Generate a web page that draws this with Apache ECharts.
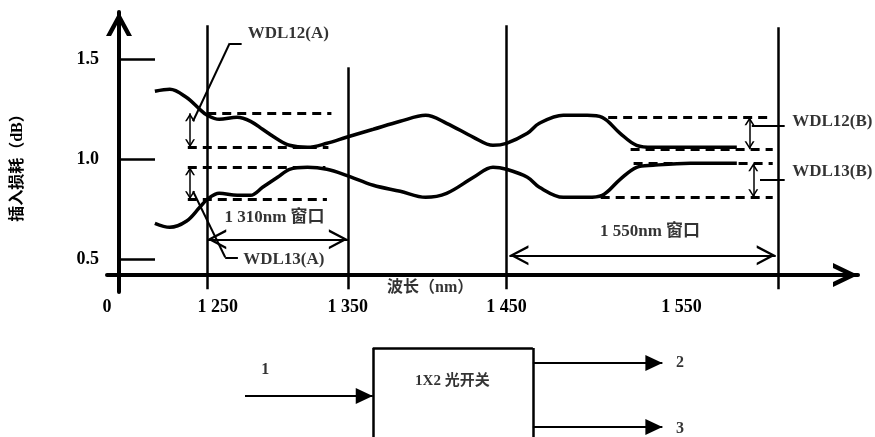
<!DOCTYPE html>
<html>
<head>
<meta charset="utf-8">
<script src="https://cdn.jsdelivr.net/npm/echarts@6.0.0/dist/echarts.min.js"></script>
<style>
html,body{margin:0;padding:0;background:#ffffff;}
#chart{width:875px;height:437px;}
</style>
</head>
<body>
<div id="chart"></div>
<script>
// ===== values =====
const wavelength = [1215,1225,1236,1245,1250,1258,1270,1279,1287,1297,1305,1317,1330,1343,1361,1379,1396,1410,1428,1441,1450,1464,1472,1488,1504,1514,1526,1537,1548,1573,1604];
const loss12 = [1.34,1.35,1.31,1.25,1.22,1.20,1.21,1.19,1.15,1.10,1.07,1.06,1.08,1.11,1.15,1.19,1.22,1.18,1.11,1.07,1.08,1.13,1.18,1.22,1.22,1.21,1.13,1.07,1.06,1.06,1.06];
const loss13 = [0.68,0.66,0.69,0.76,0.80,0.83,0.82,0.82,0.86,0.91,0.95,0.96,0.95,0.92,0.87,0.84,0.81,0.83,0.91,0.96,0.95,0.91,0.86,0.81,0.81,0.82,0.90,0.96,0.97,0.98,0.98];

const yTickValues = [0.5, 1.0, 1.5];
const xTickLabels = ['0', '1 250', '1 350', '1 450', '1 550'];
const xTickAt = [1183, 1257, 1344, 1450, 1567];

const windowEdges = [1250, 1344, 1450, 1632];
const windowEdgeTops = [1.67, 1.46, 1.67, 1.66];
const windowEdgeBottom = 0.35;

const bandA = [1.23, 1.06, 0.96, 0.80];
const bandAFrom = [1250, 1237, 1237, 1237];
const bandATo = [1333, 1331, 1329, 1330];
const bandB = [1.21, 1.05, 0.98, 0.81];
const bandBFrom = [1518, 1533, 1535, 1513];
const bandBTo = [1628, 1628, 1628, 1628];

const wdlNames = ['WDL12(A)', 'WDL13(A)', 'WDL12(B)', 'WDL13(B)'];
const wdlArrowX = [1238.5, 1238.5, 1612.5, 1615];
const wdlTextX = [1277, 1274, 1641, 1641];
const wdlTextY = [1.63, 0.50, 1.19, 0.94];
const wdlLeaders = [
  [[1273, 1.58], [1265, 1.58], [1240.5, 1.19]],
  [[1240.5, 0.84], [1262, 0.51], [1270.5, 0.51]],
  [[1614, 1.17], [1636, 1.17]],
  [[1619.5, 0.90], [1636, 0.90]]
];

const windowNames = ['1 310nm 窗口', '1 550nm 窗口'];
const windowFrom = [1250, 1452];
const windowTo = [1344, 1630];
const windowLevel = [0.60, 0.52];
const windowTextX = [1295, 1546];
const windowTextY = [0.71, 0.64];

const xName = '波长（nm）';
const xNamePos = [1399, 0.357];
const yName = '插入损耗（dB）';

// block diagram of the switch (diagram units 0-100)
const switchName = '1X2 光开关';
const switchTextPos = [51.7, 47.7];
const boxX = [42.6, 60.9];
const boxTop = 16.8;
const boxBottom = 100;
const inputFromX = 28.0;
const inputY = 61.7;
const outputToX = 75.7;
const outputY = [30.8, 90.7];
const portNames = ['1', '2', '3'];
const portX = [30.3, 77.7, 77.7];
const portY = [37.4, 30.8, 92.5];

// ===== drawing helpers =====
const K = '#000000';
const SERIF = "'Liberation Serif', 'Noto Sans CJK SC', serif";

function chevron(W, L, t) {
  const iy = (t * L / W).toFixed(2);
  return 'path://M' + W + ',' + (-L) + ' M' + W + ',0 L' + (2 * W) + ',' + L + ' L' + (2 * W - t) + ',' + L +
    ' L' + W + ',' + iy + ' L' + t + ',' + L + ' L0,' + L + ' Z';
}
function tri(W, L) {
  return 'path://M' + W + ',' + (-L) + ' M' + W + ',0 L' + (2 * W) + ',' + L + ' L0,' + L + ' Z';
}
function seg(p1, p2, style, s1, s2) {
  const a = { coord: p1, lineStyle: style, symbol: 'none' };
  const b = { coord: p2, symbol: 'none' };
  if (s1) { a.symbol = s1[0]; a.symbolSize = s1[1]; }
  if (s2) { b.symbol = s2[0]; b.symbolSize = s2[1]; }
  return [a, b];
}
const solid = w => ({ color: K, width: w, type: 'solid' });
const dashed = { color: K, width: 3, type: [9, 6] };
const smallHead = [chevron(5, 8, 1.8), [10, 16]];
const bigHead = [chevron(10, 19, 2.6), [20, 38]];
const fillHead = [tri(8, 17), [16, 34]];

const guides = [];
windowEdges.forEach((x, i) => guides.push(seg([x, windowEdgeBottom], [x, windowEdgeTops[i]], solid(2.5))));
bandA.forEach((y, i) => guides.push(seg([bandAFrom[i], y], [bandATo[i], y], dashed)));
bandB.forEach((y, i) => guides.push(seg([bandBFrom[i], y], [bandBTo[i], y], dashed)));
guides.push(seg([wdlArrowX[0], bandA[0]], [wdlArrowX[0], bandA[1]], solid(1.5), smallHead, smallHead));
guides.push(seg([wdlArrowX[1], bandA[2]], [wdlArrowX[1], bandA[3]], solid(1.5), smallHead, smallHead));
guides.push(seg([wdlArrowX[2], bandB[0]], [wdlArrowX[2], bandB[1]], solid(1.5), smallHead, smallHead));
guides.push(seg([wdlArrowX[3], bandB[2]], [wdlArrowX[3], bandB[3]], solid(1.5), smallHead, smallHead));
windowFrom.forEach((x, i) => guides.push(seg([x, windowLevel[i]], [windowTo[i], windowLevel[i]], solid(2), bigHead, bigHead)));
wdlLeaders.forEach(path => {
  for (let i = 0; i + 1 < path.length; i++) guides.push(seg(path[i], path[i + 1], solid(2)));
});

const texts = [];
wdlNames.forEach((n, i) => texts.push({ value: [wdlTextX[i], wdlTextY[i]], label: { formatter: n, align: 'left' } }));
windowNames.forEach((n, i) => texts.push({ value: [windowTextX[i], windowTextY[i]], label: { formatter: n, fontSize: 17 } }));
texts.push({ value: xNamePos, label: { formatter: xName, fontSize: 16 } });

const diagramLines = [
  seg([boxX[0], boxBottom], [boxX[0], boxTop], solid(2.5)),
  seg([boxX[0], boxTop], [boxX[1], boxTop], solid(2.5)),
  seg([boxX[1], boxTop], [boxX[1], boxBottom], solid(2.5)),
  seg([inputFromX, inputY], [boxX[0], inputY], solid(2), null, fillHead),
  seg([boxX[1], outputY[0]], [outputToX, outputY[0]], solid(2), null, fillHead),
  seg([boxX[1], outputY[1]], [outputToX, outputY[1]], solid(2), null, fillHead)
];
const diagramTexts = [{ value: switchTextPos, label: { formatter: switchName, fontSize: 15 } }];
portNames.forEach((n, i) => diagramTexts.push({ value: [portX[i], portY[i]], label: { formatter: n } }));

const chart = echarts.init(document.getElementById('chart'), null, { renderer: 'canvas' });
chart.setOption({
  animation: false,
  backgroundColor: '#ffffff',
  grid: [
    { left: 107, right: 17, top: 12, bottom: 145, containLabel: false, outerBoundsMode: 'none' },
    { left: 0, right: 0, top: 330, bottom: 0, containLabel: false, outerBoundsMode: 'none' }
  ],
  xAxis: [
    {
      gridIndex: 0, type: 'value', min: 1183, max: 1685,
      axisLine: { show: false, onZero: false }, axisTick: { show: false }, splitLine: { show: false },
      axisLabel: {
        customValues: xTickAt, margin: 6, color: K, fontFamily: SERIF, fontWeight: 'bold', fontSize: 18,
        formatter: function (v) {
          let b = 0;
          for (let i = 1; i < xTickAt.length; i++) if (Math.abs(xTickAt[i] - v) < Math.abs(xTickAt[b] - v)) b = i;
          return xTickLabels[b];
        }
      }
    },
    {
      gridIndex: 0, type: 'value', min: 1183, max: 1685, position: 'bottom', offset: -17,
      axisLine: { show: true, onZero: false, symbol: ['none', chevron(12, 25, 5)], symbolSize: [24, 50], lineStyle: { color: K, width: 4 } },
      axisTick: { show: false }, axisLabel: { show: false }, splitLine: { show: false }
    },
    { gridIndex: 1, type: 'value', min: 0, max: 100, show: false }
  ],
  yAxis: [
    {
      gridIndex: 0, type: 'value', min: 0.3365, max: 1.7365, offset: -12,
      axisLine: { show: true, onZero: false, symbol: ['none', chevron(13, 24, 5)], symbolSize: [26, 48], lineStyle: { color: K, width: 4 } },
      axisTick: { show: true, inside: true, length: 36, customValues: yTickValues, lineStyle: { color: K, width: 2.5 } },
      splitLine: { show: false },
      axisLabel: { customValues: yTickValues, margin: 20, color: K, fontFamily: SERIF, fontWeight: 'bold', fontSize: 18, formatter: v => v.toFixed(1) },
      name: yName, nameLocation: 'middle', nameRotate: 90, nameGap: 93,
      nameTextStyle: { color: K, fontFamily: SERIF, fontWeight: 'bold', fontSize: 16, padding: [0, 24, 0, 0] }
    },
    { gridIndex: 1, type: 'value', min: 0, max: 100, inverse: true, show: false }
  ],
  series: [
    {
      type: 'line', name: 'IL 1-2', xAxisIndex: 0, yAxisIndex: 0, silent: true,
      data: wavelength.map((w, i) => [w, loss12[i]]),
      smooth: 0.35, showSymbol: false, symbol: 'none',
      lineStyle: { color: K, width: 3.5 }, itemStyle: { color: K },
      markLine: { silent: true, animation: false, symbol: ['none', 'none'], label: { show: false }, data: guides }
    },
    {
      type: 'line', name: 'IL 1-3', xAxisIndex: 0, yAxisIndex: 0, silent: true,
      data: wavelength.map((w, i) => [w, loss13[i]]),
      smooth: 0.35, showSymbol: false, symbol: 'none',
      lineStyle: { color: K, width: 3.5 }, itemStyle: { color: K }
    },
    {
      type: 'scatter', xAxisIndex: 0, yAxisIndex: 0, silent: true, symbolSize: 0,
      itemStyle: { color: K }, data: texts,
      label: { show: true, position: 'inside', color: K, fontFamily: SERIF, fontWeight: 'bold', fontSize: 17 }
    },
    {
      type: 'scatter', xAxisIndex: 2, yAxisIndex: 1, silent: true, symbolSize: 0,
      itemStyle: { color: K }, data: diagramTexts,
      label: { show: true, position: 'inside', color: K, fontFamily: SERIF, fontWeight: 'bold', fontSize: 16 },
      markLine: { silent: true, animation: false, symbol: ['none', 'none'], label: { show: false }, data: diagramLines }
    }
  ]
});
</script>
</body>
</html>
